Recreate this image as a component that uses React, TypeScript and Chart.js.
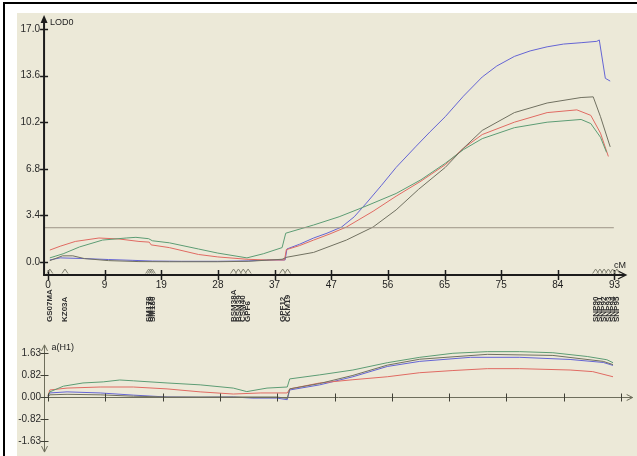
import React, { useEffect, useRef } from 'react';
import { Chart, registerables } from 'chart.js';

Chart.register(...registerables);

// ---------------- data ----------------
const xTickValues = [0, 9.34, 18.68, 28.02, 37.36, 46.7, 56.04, 65.38, 74.72, 84.06, 93.4];
const xTickLabels = ['0', '9', '19', '28', '37', '47', '56', '65', '75', '84', '93'];
const lodTickValues = [0, 3.4, 6.8, 10.2, 13.6, 17.0];
const effTickValues = [-1.63, -0.815, 0, 0.815, 1.63];
const effTickLabels = ['-1.63', '-0.82', '0.00', '0.82', '1.63'];

const thresholdCM = [-0.6, 93.3];
const thresholdLOD = [2.5, 2.5];

const blueCM = [0.3, 2.0, 6.0, 10.0, 14.0, 17.2, 22.0, 28.0, 33.0, 36.5, 39.1, 39.4, 41.5, 43.8, 46.0, 48.4, 50.5, 52.5, 55.0, 57.4, 60.6, 63.0, 65.5, 68.5, 71.6, 74.0, 76.9, 79.5, 82.3, 85.0, 87.9, 90.5, 90.9, 91.9, 92.7];
const blueLOD = [0.15, 0.3, 0.25, 0.18, 0.12, 0.07, 0.05, 0.05, 0.08, 0.15, 0.15, 0.95, 1.3, 1.75, 2.1, 2.55, 3.3, 4.3, 5.6, 6.9, 8.4, 9.5, 10.6, 12.1, 13.5, 14.3, 15.0, 15.4, 15.7, 15.9, 16.0, 16.1, 16.2, 13.4, 13.2];

const redCM = [0.3, 2.0, 4.5, 8.4, 11.7, 15.0, 16.7, 17.0, 20.0, 24.8, 28.0, 32.8, 36.0, 39.0, 39.3, 41.5, 43.8, 46.5, 49.2, 53.6, 57.4, 61.5, 65.5, 68.5, 71.6, 76.9, 82.3, 87.2, 89.5, 91.1, 92.4];
const redLOD = [0.87, 1.15, 1.5, 1.75, 1.68, 1.5, 1.45, 1.25, 1.05, 0.55, 0.37, 0.2, 0.15, 0.15, 0.9, 1.2, 1.6, 2.05, 2.55, 3.7, 4.8, 5.9, 7.1, 8.3, 9.3, 10.2, 10.9, 11.1, 10.7, 9.4, 7.7];

const greenCM = [0.3, 2.5, 5.2, 9.0, 12.9, 14.5, 16.6, 17.2, 20.0, 24.8, 28.0, 32.8, 35.5, 38.6, 39.2, 43.8, 48.0, 52.0, 57.4, 61.5, 65.5, 68.5, 71.6, 76.9, 82.3, 87.9, 89.5, 91.1, 92.1];
const greenLOD = [0.3, 0.6, 1.1, 1.6, 1.75, 1.8, 1.7, 1.55, 1.4, 0.95, 0.65, 0.3, 0.6, 1.05, 2.1, 2.7, 3.3, 4.0, 5.0, 6.0, 7.2, 8.2, 9.0, 9.8, 10.2, 10.4, 10.1, 9.1, 8.0];

const darkCM = [0.3, 2.4, 4.1, 6.0, 10.0, 15.0, 20.0, 28.0, 33.0, 38.6, 39.4, 43.8, 49.2, 53.6, 57.4, 61.1, 65.5, 68.5, 71.6, 76.9, 82.3, 87.9, 89.9, 91.1, 92.7];
const darkLOD = [0.1, 0.45, 0.45, 0.25, 0.1, 0.03, 0.02, 0.02, 0.05, 0.2, 0.35, 0.7, 1.6, 2.55, 3.8, 5.3, 6.9, 8.3, 9.6, 10.9, 11.6, 12.0, 12.05, 10.6, 8.4];

const greenEffCM = [0.0, 0.3, 2.5, 5.7, 9.0, 11.7, 13.9, 19.4, 24.8, 30.2, 32.4, 35.7, 39.0, 39.4, 44.3, 49.7, 55.3, 60.6, 66.0, 71.6, 76.9, 82.3, 87.9, 91.1, 92.1];
const greenEff = [0.05, 0.19, 0.4, 0.52, 0.56, 0.63, 0.6, 0.52, 0.45, 0.33, 0.2, 0.33, 0.37, 0.67, 0.82, 1.0, 1.27, 1.47, 1.62, 1.68, 1.68, 1.64, 1.5, 1.38, 1.27];

const redEffCM = [0.0, 0.3, 3.1, 8.5, 13.9, 19.4, 24.8, 30.2, 34.7, 39.0, 39.4, 44.3, 49.7, 55.3, 60.6, 66.0, 71.6, 76.9, 85.1, 88.8, 92.1];
const redEff = [0.05, 0.26, 0.33, 0.37, 0.37, 0.3, 0.19, 0.11, 0.15, 0.15, 0.3, 0.52, 0.64, 0.75, 0.9, 0.98, 1.05, 1.05, 1.0, 0.94, 0.75];

const blueEffCM = [0.0, 0.3, 3.1, 8.5, 13.9, 19.4, 24.8, 30.2, 33.4, 37.3, 39.0, 39.4, 44.3, 49.7, 55.3, 60.6, 68.9, 76.9, 85.1, 90.5, 92.1];
const blueEff = [0.02, 0.15, 0.19, 0.15, 0.07, 0.0, -0.01, 0.0, -0.04, -0.04, -0.1, 0.26, 0.45, 0.75, 1.13, 1.32, 1.47, 1.47, 1.39, 1.28, 1.17];

const darkEffCM = [0.0, 0.3, 3.1, 8.5, 13.9, 19.4, 30.2, 37.3, 39.0, 39.4, 44.3, 49.7, 55.3, 60.6, 71.6, 82.3, 90.5, 92.1];
const darkEff = [0.0, 0.08, 0.1, 0.08, 0.03, 0.0, 0.0, 0.0, -0.05, 0.3, 0.5, 0.8, 1.18, 1.4, 1.58, 1.54, 1.32, 1.2];

const markerCM = [0.3, 2.8, 16.6, 16.9, 17.2, 30.6, 31.4, 32.2, 33.0, 38.7, 39.5, 90.3, 91.0, 91.7, 92.4, 93.1, 93.8];
const markerNames = ['GS07MA', 'KZ03A', 'SM178', 'SM179', 'SM180', 'BSM38A', 'BSM39', 'CSM40', 'GPF6', 'GPF12', 'CKM19', 'SNP90', 'SNP91', 'SNP92', 'SNP93', 'SNP94', 'SNP95'];

// ---------------- style ----------------
const FONT = "'Liberation Sans Narrow', 'Liberation Sans', Arial, sans-serif";
const W = 637;
const H = 456;
const BLUE = '#6464d4';
const RED = '#e06a62';
const GREEN = '#5c9c74';
const DARK = '#707060';
const AXIS_ORIGIN_CM = -0.65;
const AXIS_END_CM = 95.3;
const LOD_FLOOR = -0.95;
const LOD_TOP = 18.03;
const EFF_TOP = 1.93;
const EFF_BOTTOM = -2.04;

const pts = (xs: number[], ys: number[]) => xs.map((x, i) => ({ x, y: ys[i] }));

const line = (ctx: CanvasRenderingContext2D, x1: number, y1: number, x2: number, y2: number) => {
  ctx.beginPath();
  ctx.moveTo(x1, y1);
  ctx.lineTo(x2, y2);
  ctx.stroke();
};

const ds = (data: { x: number; y: number }[], color: string) => ({
  data,
  borderColor: color,
  borderWidth: 1,
  pointRadius: 0,
  tension: 0,
  clip: false as any,
});

const topDecor = {
  id: 'topDecor',
  afterDraw(chart: any) {
    const { ctx } = chart;
    const xs = chart.scales.x;
    const ys = chart.scales.y;
    const ax = xs.getPixelForValue(AXIS_ORIGIN_CM);
    const ay = ys.getPixelForValue(LOD_FLOOR);
    const yTop = ys.getPixelForValue(LOD_TOP);
    const xEnd = xs.getPixelForValue(AXIS_END_CM);
    ctx.save();
    ctx.strokeStyle = '#1c1c1c';
    ctx.fillStyle = '#1c1c1c';
    ctx.lineWidth = 2;
    line(ctx, ax, ay, ax, yTop + 6);
    ctx.beginPath();
    ctx.moveTo(ax, yTop);
    ctx.lineTo(ax - 3.5, yTop + 8);
    ctx.lineTo(ax + 3.5, yTop + 8);
    ctx.closePath();
    ctx.fill();
    line(ctx, ax - 1, ay, xEnd - 1, ay);
    ctx.lineWidth = 1.3;
    ctx.beginPath();
    ctx.moveTo(xEnd - 8, ay - 4);
    ctx.lineTo(xEnd, ay);
    ctx.lineTo(xEnd - 8, ay + 4);
    ctx.stroke();
    ctx.lineWidth = 1.5;
    lodTickValues.forEach((v) => {
      const py = Math.round(ys.getPixelForValue(v)) + 0.5;
      line(ctx, ax - 4, py, ax + 4, py);
    });
    xTickValues.forEach((v) => {
      const px = Math.round(xs.getPixelForValue(v)) + 0.5;
      line(ctx, px, ay - 5, px, ay + 5);
    });
    // marker triangles
    ctx.strokeStyle = '#808070';
    ctx.lineWidth = 1;
    markerCM.forEach((c) => {
      const px = xs.getPixelForValue(c);
      ctx.beginPath();
      ctx.moveTo(px - 3, ay - 1.5);
      ctx.lineTo(px, ay - 6);
      ctx.lineTo(px + 3, ay - 1.5);
      ctx.stroke();
    });
    // labels
    ctx.fillStyle = '#222';
    ctx.font = `9px ${FONT}`;
    ctx.textBaseline = 'middle';
    ctx.textAlign = 'left';
    ctx.fillText('LOD0', ax + 6, yTop + 8);
    ctx.fillText('cM', xEnd - 12, ay - 10);
    // marker names
    ctx.font = `bold 8px ${FONT}`;
    ctx.fillStyle = '#303030';
    markerCM.forEach((c, i) => {
      const px = xs.getPixelForValue(c);
      ctx.save();
      ctx.translate(px, ay + 47);
      ctx.rotate(-Math.PI / 2);
      ctx.textAlign = 'left';
      ctx.textBaseline = 'middle';
      ctx.fillText(markerNames[i], 0, 0);
      ctx.restore();
    });
    ctx.restore();
  },
};

const bottomDecor = {
  id: 'bottomDecor',
  afterDraw(chart: any) {
    const { ctx } = chart;
    const xs = chart.scales.x;
    const ys = chart.scales.y;
    const ax = Math.round(xs.getPixelForValue(AXIS_ORIGIN_CM)) + 0.5;
    const y0 = Math.round(ys.getPixelForValue(0)) + 0.5;
    const yTop = ys.getPixelForValue(EFF_TOP);
    const yBot = ys.getPixelForValue(EFF_BOTTOM);
    const xEnd = xs.getPixelForValue(AXIS_END_CM);
    ctx.save();
    ctx.strokeStyle = '#6e6e5c';
    ctx.lineWidth = 1;
    line(ctx, ax, yTop, ax, yBot);
    ctx.beginPath();
    ctx.moveTo(ax - 3, yTop + 6);
    ctx.lineTo(ax, yTop);
    ctx.lineTo(ax + 3, yTop + 6);
    ctx.stroke();
    ctx.beginPath();
    ctx.moveTo(ax - 3, yBot - 6);
    ctx.lineTo(ax, yBot);
    ctx.lineTo(ax + 3, yBot - 6);
    ctx.stroke();
    line(ctx, ax, y0, xEnd, y0);
    ctx.beginPath();
    ctx.moveTo(xEnd - 6, y0 - 3);
    ctx.lineTo(xEnd, y0);
    ctx.lineTo(xEnd - 6, y0 + 3);
    ctx.stroke();
    ctx.strokeStyle = '#404036';
    effTickValues.forEach((v) => {
      const py = Math.round(ys.getPixelForValue(v)) + 0.5;
      line(ctx, ax - 4, py, ax + 4, py);
    });
    xTickValues.forEach((v) => {
      const px = Math.round(xs.getPixelForValue(v)) + 0.5;
      line(ctx, px, y0 - 4, px, y0 + 4);
    });
    ctx.fillStyle = '#222';
    ctx.font = `9px ${FONT}`;
    ctx.textBaseline = 'middle';
    ctx.textAlign = 'left';
    ctx.fillText('a(H1)', ax + 7, yTop + 3);
    ctx.restore();
  },
};

const tickFont = { family: FONT, size: 10 };

export default function App() {
  const topRef = useRef<HTMLCanvasElement>(null);
  const botRef = useRef<HTMLCanvasElement>(null);

  useEffect(() => {
    const top = new Chart(topRef.current as HTMLCanvasElement, {
      type: 'line',
      data: {
        datasets: [
          ds(pts(thresholdCM, thresholdLOD), '#9c9486'),
          ds(pts(darkCM, darkLOD), DARK),
          ds(pts(greenCM, greenLOD), GREEN),
          ds(pts(redCM, redLOD), RED),
          ds(pts(blueCM, blueLOD), BLUE),
        ] as any,
      },
      options: {
        animation: false,
        responsive: false,
        maintainAspectRatio: false,
        events: [],
        plugins: { legend: { display: false }, tooltip: { enabled: false } },
        layout: { padding: { left: 17, top: 29, right: 16, bottom: 164 } },
        scales: {
          x: {
            type: 'linear',
            min: 0,
            max: 93.4,
            grid: { display: false, drawTicks: false },
            border: { display: false },
            afterBuildTicks: (s: any) => {
              s.ticks = xTickValues.map((v) => ({ value: v }));
            },
            afterFit: (s: any) => {
              s.height = 30;
            },
            ticks: {
              autoSkip: false,
              maxRotation: 0,
              minRotation: 0,
              padding: 17,
              color: '#1e1e1e',
              font: tickFont,
              callback: (_v: any, i: number) => xTickLabels[i],
            },
          },
          y: {
            type: 'linear',
            min: 0,
            max: 17,
            grid: { display: false, drawTicks: false },
            border: { display: false },
            afterBuildTicks: (s: any) => {
              s.ticks = lodTickValues.map((v) => ({ value: v }));
            },
            afterFit: (s: any) => {
              s.width = 31;
            },
            ticks: {
              padding: 8,
              color: '#2a2a2a',
              font: tickFont,
              callback: (v: any) => Number(v).toFixed(1),
            },
          },
        },
      } as any,
      plugins: [topDecor],
    });

    const bottom = new Chart(botRef.current as HTMLCanvasElement, {
      type: 'line',
      data: {
        datasets: [
          ds(pts(darkEffCM, darkEff), DARK),
          ds(pts(greenEffCM, greenEff), GREEN),
          ds(pts(redEffCM, redEff), RED),
          ds(pts(blueEffCM, blueEff), BLUE),
        ] as any,
      },
      options: {
        animation: false,
        responsive: false,
        maintainAspectRatio: false,
        events: [],
        plugins: { legend: { display: false }, tooltip: { enabled: false } },
        layout: { padding: { left: 17, top: 353, right: 16, bottom: 15 } },
        scales: {
          x: { type: 'linear', min: 0, max: 93.4, display: false },
          y: {
            type: 'linear',
            min: -1.63,
            max: 1.63,
            grid: { display: false, drawTicks: false },
            border: { display: false },
            afterBuildTicks: (s: any) => {
              s.ticks = effTickValues.map((v) => ({ value: v }));
            },
            afterFit: (s: any) => {
              s.width = 31;
            },
            ticks: {
              padding: 7,
              color: '#2a2a2a',
              font: tickFont,
              callback: (_v: any, i: number) => effTickLabels[i],
            },
          },
        },
      } as any,
      plugins: [bottomDecor],
    });

    return () => {
      top.destroy();
      bottom.destroy();
    };
  }, []);

  const canvasStyle: React.CSSProperties = { position: 'absolute', left: 0, top: 0, width: W, height: H };

  return (
    <div style={{ position: 'absolute', left: 0, top: 0, width: W, height: H, background: '#ffffff', overflow: 'hidden' }}>
      <div style={{ position: 'absolute', left: 3, top: 2, width: W, height: H, borderLeft: '2px solid #000', borderTop: '2px solid #000' }} />
      <div style={{ position: 'absolute', left: 17, top: 13, right: 0, bottom: 0, background: '#ECE9D8' }} />
      <canvas ref={topRef} width={W} height={H} style={canvasStyle} />
      <canvas ref={botRef} width={W} height={H} style={canvasStyle} />
    </div>
  );
}
